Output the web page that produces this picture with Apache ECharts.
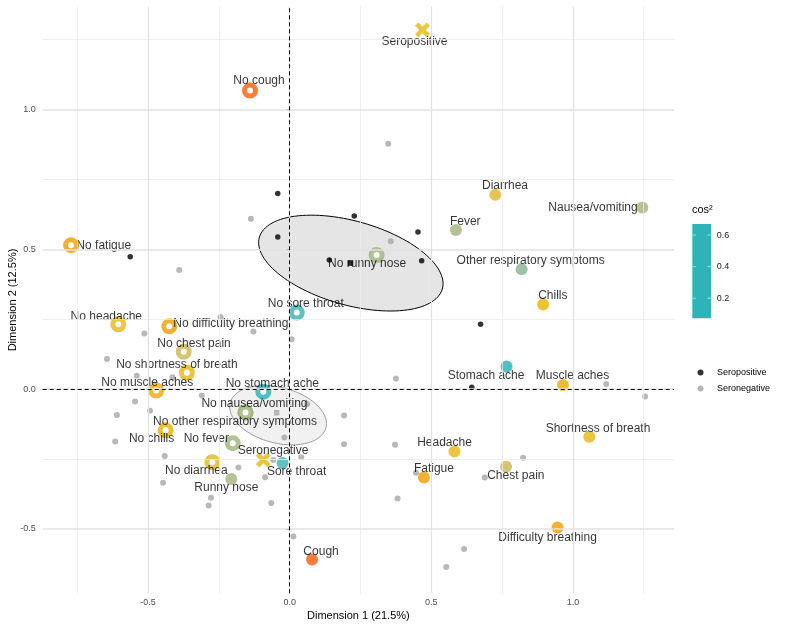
<!DOCTYPE html>
<html>
<head>
<meta charset="utf-8">
<script src="https://cdn.jsdelivr.net/npm/echarts@6/dist/echarts.min.js"></script>
<style>html,body{margin:0;padding:0;background:#fff}#chart{width:787px;height:630px}</style>
</head>
<body>
<div id="chart"></div>
<script>
// ---------------- DATA ----------------
// Axis limits (data units) and tick values
const xLimits = [-0.872, 1.357];
const yLimits = [-0.730, 1.368];
const xMajor = [-0.5, 0, 0.5, 1.0];
const yMajor = [-0.5, 0, 0.5, 1.0];
const xMinor = [-0.75, -0.25, 0.25, 0.75, 1.25];
const yMinor = [-0.25, 0.25, 0.75, 1.25];

// Variable categories (symptom present / absent)
const varNames = ['Cough', 'Fatigue', 'Difficulty breathing', 'Headache', 'Chest pain',
  'Shortness of breath', 'Muscle aches', 'Chills', 'Diarrhea', 'Fever',
  'Other respiratory symptoms', 'Nausea/vomiting', 'Runny nose', 'Stomach ache', 'Sore throat'];
const yesX = [0.079, 0.474, 0.946, 0.582, 0.764, 1.058, 0.965, 0.895, 0.726, 0.587, 0.819, 1.245, -0.206, 0.766, -0.025];
const yesY = [-0.609, -0.316, -0.495, -0.223, -0.277, -0.170, 0.015, 0.303, 0.695, 0.569, 0.429, 0.650, -0.321, 0.081, -0.264];
const noX  = [-0.140, -0.772, -0.425, -0.605, -0.374, -0.363, -0.471, -0.438, -0.273, -0.201, -0.156, -0.156, 0.307, -0.093, 0.025];
const noY  = [1.068, 0.515, 0.225, 0.232, 0.134, 0.059, -0.005, -0.147, -0.261, -0.193, -0.083, -0.083, 0.480, -0.009, 0.274];
const cos2 = [0.64, 0.46, 0.46, 0.365, 0.295, 0.365, 0.41, 0.385, 0.35, 0.205, 0.163, 0.213, 0.21, 0.08, 0.09];

// Supplementary qualitative categories
const suppNames = ['Seropositive', 'Seronegative'];
const suppX = [0.469, -0.093];
const suppY = [1.285, -0.253];
const suppCos2 = [0.36, 0.36];

// Individuals
const posX = [-0.042, -0.042, 0.228, -0.563, 0.140, 0.453, 0.466, 0.674, 0.643];
const posY = [0.700, 0.544, 0.619, 0.474, 0.462, 0.562, 0.459, 0.232, 0.007];
const negX = [0.348, -0.137, 0.357, -0.390, -0.244, -0.513, -0.128, 0.007, -0.645, -0.540,
  -0.414, -0.310, -0.546, -0.493, -0.610, 0.062, 0.192, -0.616, -0.019, 0.192,
  0.372, -0.441, 0.041, -0.058, -0.181, -0.087, -0.447, -0.278, -0.286, -0.065,
  0.381, 0.013, 0.375, 1.118, 1.255, 0.824, 0.689, 0.446, 0.616, 0.553];
const negY = [0.878, 0.610, 0.529, 0.426, 0.258, 0.199, 0.206, 0.179, 0.108, 0.048,
  0.043, -0.023, -0.044, -0.077, -0.092, -0.053, -0.094, -0.187, -0.173, -0.197,
  -0.199, -0.239, -0.243, -0.253, -0.280, -0.315, -0.335, -0.388, -0.416, -0.407,
  -0.391, -0.527, 0.038, 0.019, -0.026, -0.245, -0.316, -0.299, -0.572, -0.636];

// Group means and concentration ellipses (center, semi-axes, angle in degrees)
const groupNames = ['Seropositive', 'Seronegative'];
const meanX = [0.215, -0.046];
const meanY = [0.451, -0.084];
const ellA = [0.336, 0.175];
const ellB = [0.150, 0.0994];
const ellAngle = [-16, -15];
const ellCx = [0.216, -0.041];
const ellCy = [0.451, -0.093];

// cos2 colour bar
const cos2Limits = [0.073, 0.67];
const cos2Ticks = [0.2, 0.4, 0.6];

// ---------------- LAYOUT (label offsets in px) ----------------
const yesLabelOffset = [[9, -8], [10, -8.4], [-10, 9.6], [-10, -9], [9.8, 9.3],
  [8.7, -8.4], [9.5, -9], [9.7, -8.7], [9.7, -9], [9.3, -8.3],
  [9, -9], [-49.3, 0], [-5, 8.7], [-20.5, 9.3], [14, 9]];
const noLabelOffset = [[9, -10], [32.7, 0.5], [61.5, -2.3], [-12, -8], [10.3, -8.4],
  [-10, -8.4], [-9, -7.7], [-14, 8.7], [-16, 8.7], [-26.4, -4.3],
  [-10.4, 9.7], [9, -8.3], [-9.5, 8.5], [9, -8.4], [9, -8.4]];
const suppLabelOffset = [[-8, 12], [9.7, -9]];

// ---------------- colour scale (Lab interpolation) ----------------
const gradCols = ['#00AFBB', '#E7B800', '#FC4E07'];
function hex2rgb(h){h=h.replace('#','');return [0,2,4].map(i=>parseInt(h.substr(i,2),16));}
function lin(c){c/=255;return c<=0.04045?c/12.92:Math.pow((c+0.055)/1.055,2.4);}
function delin(c){c=c<=0.0031308?12.92*c:1.055*Math.pow(c,1/2.4)-0.055;return Math.max(0,Math.min(255,Math.round(c*255)));}
function rgb2lab(rgb){
  const R=lin(rgb[0]),G=lin(rgb[1]),B=lin(rgb[2]);
  const X=(0.4124*R+0.3576*G+0.1805*B)/0.95047,Y=0.2126*R+0.7152*G+0.0722*B,Z=(0.0193*R+0.1192*G+0.9505*B)/1.08883;
  const f=t=>t>0.008856?Math.cbrt(t):7.787*t+16/116;
  const fx=f(X),fy=f(Y),fz=f(Z);
  return [116*fy-16,500*(fx-fy),200*(fy-fz)];
}
function lab2hex(lab){
  const fy=(lab[0]+16)/116,fx=fy+lab[1]/500,fz=fy-lab[2]/200;
  const finv=t=>t>0.206893?t*t*t:(t-16/116)/7.787;
  const X=finv(fx)*0.95047,Y=finv(fy),Z=finv(fz)*1.08883;
  const R=3.2406*X-1.5372*Y-0.4986*Z,G=-0.9689*X+1.8758*Y+0.0415*Z,B=0.0557*X-0.2040*Y+1.0570*Z;
  return '#'+[R,G,B].map(v=>delin(v).toString(16).padStart(2,'0')).join('');
}
const gradLab = gradCols.map(c=>rgb2lab(hex2rgb(c)));
function colorFor(v){
  let t=(v-cos2Limits[0])/(cos2Limits[1]-cos2Limits[0]);
  t=Math.max(0,Math.min(1,t));
  const seg=t<0.5?0:1, u=(t-seg*0.5)/0.5;
  const a=gradLab[seg],b=gradLab[seg+1];
  return lab2hex([0,1,2].map(i=>a[i]+(b[i]-a[i])*u));
}

// ---------------- chart ----------------
const FONT = '"Liberation Sans", Arial, Helvetica, sans-serif';
const chart = echarts.init(document.getElementById('chart'), null, {renderer: 'canvas'});

const gridLeft = 42.7, gridRight = 113, gridTop = 6.7, gridBottom = 36.7;

const gridLines = [].concat(
  xMinor.map(v=>({xAxis:v, lineStyle:{color:'#ebebeb', width:0.8, type:'solid'}})),
  yMinor.map(v=>({yAxis:v, lineStyle:{color:'#ebebeb', width:0.8, type:'solid'}})),
  xMajor.map(v=>({xAxis:v, lineStyle:{color:'#e2e2e2', width:1.3, type:'solid'}})),
  yMajor.map(v=>({yAxis:v, lineStyle:{color:'#e2e2e2', width:1.6, type:'solid'}}))
);

function labelCfg(off){
  return {show:true, position:'inside', offset:off, color:'#000', fontSize:12, fontFamily:FONT,
          textBorderWidth:0, textShadowBlur:0,
          align:'center', verticalAlign:'middle', formatter: p=>p.name};
}

const ringData = varNames.map((n,i)=>({
  name: 'No ' + n.charAt(0).toLowerCase() + n.slice(1),
  value: [noX[i], noY[i]],
  itemStyle: {color:'#ffffff', borderColor: colorFor(cos2[i]), borderWidth: 5},
  label: labelCfg(noLabelOffset[i])
}));
const yesData = varNames.map((n,i)=>({
  name: n,
  value: [yesX[i], yesY[i]],
  itemStyle: {color: colorFor(cos2[i])},
  label: labelCfg(yesLabelOffset[i])
}));
const suppData = suppNames.map((n,i)=>({
  name: n,
  value: [suppX[i], suppY[i]],
  itemStyle: {color: colorFor(suppCos2[i])},
  label: labelCfg(suppLabelOffset[i])
}));

const groupFill = ['rgba(0,0,0,0.10)', 'rgba(140,140,140,0.12)'];
const groupStroke = ['#000000', '#9a9a9a'];
const groupPoint = ['#000000', '#a6a6a6'];

const ellipseData = groupNames.map((g,i)=>[ellCx[i], ellCy[i], ellA[i], ellB[i], ellAngle[i], i]);

const xShape = 'path://M4.5,0 L10,5.5 L15.5,0 L20,4.5 L14.5,10 L20,15.5 L15.5,20 L10,14.5 L4.5,20 L0,15.5 L5.5,10 L0,4.5 Z';

// colour bar (legend) geometry
const cb = {x:692.3, y:224, w:18.7, h:94.3};
const cbY = v => cb.y + cb.h - (v - cos2Limits[0])/(cos2Limits[1]-cos2Limits[0])*cb.h;
const cbElems = [
  {type:'text', left:692, top:204, style:{text:'cos²', fontSize:11, fill:'#000', fontFamily:FONT}},
  {type:'rect', shape:{x:cb.x, y:cb.y, width:cb.w, height:cb.h}, style:{fill:'#2db4b9'}}
];
cos2Ticks.forEach(v=>{
  const y=cbY(v);
  cbElems.push({type:'line', shape:{x1:cb.x, y1:y, x2:cb.x+3.7, y2:y}, style:{stroke:'rgba(255,255,255,0.55)', lineWidth:1}});
  cbElems.push({type:'line', shape:{x1:cb.x+cb.w-3.7, y1:y, x2:cb.x+cb.w, y2:y}, style:{stroke:'rgba(255,255,255,0.55)', lineWidth:1}});
  cbElems.push({type:'text', x:716.7, y:y, style:{text:v.toFixed(1), fontSize:9, fill:'#1a1a1a', fontFamily:FONT, textVerticalAlign:'middle', verticalAlign:'middle'}});
});

const option = {
  animation: false,
  backgroundColor: '#ffffff',
  grid: {left: gridLeft, right: gridRight, top: gridTop, bottom: gridBottom, containLabel: false, outerBoundsMode: 'none'},
  xAxis: {
    type: 'value', min: xLimits[0], max: xLimits[1],
    name: 'Dimension 1 (21.5%)', nameLocation: 'middle', nameGap: 17, nameMoveOverlap: false,
    nameTextStyle: {fontSize: 11, color: '#000', fontFamily: FONT},
    axisLine: {show: false},
    splitLine: {show: false},
    axisTick: {show: true, customValues: xMajor, length: 3, lineStyle: {color: '#4d4d4d', width: 1}},
    axisLabel: {customValues: xMajor, formatter: v => v.toFixed(1), fontSize: 9, color: '#4d4d4d', margin: 5, fontFamily: FONT}
  },
  yAxis: {
    type: 'value', min: yLimits[0], max: yLimits[1],
    name: 'Dimension 2 (12.5%)', nameLocation: 'middle', nameGap: 24, nameRotate: 90, nameMoveOverlap: false,
    nameTextStyle: {fontSize: 11, color: '#000', fontFamily: FONT},
    axisLine: {show: false},
    splitLine: {show: false},
    axisTick: {show: true, customValues: yMajor, length: 3, lineStyle: {color: '#4d4d4d', width: 1}},
    axisLabel: {customValues: yMajor, formatter: v => v.toFixed(1), fontSize: 9, color: '#4d4d4d', margin: 7, fontFamily: FONT}
  },
  legend: {
    data: ['Seropositive', 'Seronegative'],
    orient: 'vertical', left: 692.5, top: 363,
    itemWidth: 23, itemHeight: 6, itemGap: 7, icon: 'circle',
    selectedMode: false,
    textStyle: {fontSize: 9, color: '#000', fontFamily: FONT}
  },
  graphic: cbElems,
  series: [
    {
      type: 'scatter', name: 'grid', data: [], silent: true, z: 0,
      markLine: {silent: true, symbol: ['none', 'none'], label: {show: false}, data: gridLines, animation: false}
    },
    {
      type: 'custom', name: 'ellipses', z: 1, silent: true,
      data: ellipseData,
      renderItem: function (params, api) {
        const cx = api.value(0), cy = api.value(1), a = api.value(2), b = api.value(3);
        const ang = api.value(4) * Math.PI / 180, g = api.value(5);
        const pts = [];
        for (let k = 0; k <= 120; k++) {
          const t = 2 * Math.PI * k / 120;
          const dx = a * Math.cos(t), dy = b * Math.sin(t);
          pts.push(api.coord([cx + dx * Math.cos(ang) - dy * Math.sin(ang), cy + dx * Math.sin(ang) + dy * Math.cos(ang)]));
        }
        return {type: 'polygon', shape: {points: pts}, style: {fill: groupFill[g], stroke: groupStroke[g], lineWidth: 1}};
      }
    },
    {
      type: 'scatter', name: 'zero', data: [], silent: true, z: 2,
      markLine: {silent: true, symbol: ['none', 'none'], label: {show: false},
        lineStyle: {color: '#000', width: 1, type: [4, 3]},
        data: [{xAxis: 0}, {yAxis: 0}], animation: false}
    },
    {
      type: 'scatter', name: 'Seronegative', z: 3, symbol: 'circle', symbolSize: 6,
      itemStyle: {color: groupPoint[1]},
      data: negX.map((x, i) => [x, negY[i]])
    },
    {
      type: 'scatter', name: 'Seropositive', z: 3, symbol: 'circle', symbolSize: 5.5,
      itemStyle: {color: groupPoint[0]},
      data: posX.map((x, i) => [x, posY[i]])
    },
    {
      type: 'scatter', name: 'means', z: 3, symbol: 'rect', symbolSize: 5.5,
      data: groupNames.map((g, i) => ({value: [meanX[i], meanY[i]], itemStyle: {color: groupPoint[i]}}))
    },
    {
      type: 'scatter', name: 'absent', z: 4, symbol: 'circle', symbolSize: 11,
      data: ringData
    },
    {
      type: 'scatter', name: 'present', z: 4, symbol: 'circle', symbolSize: 12,
      data: yesData
    },
    {
      type: 'scatter', name: 'supplementary', z: 4, symbol: xShape, symbolSize: 15,
      data: suppData
    }
  ]
};
chart.setOption(option);
</script>
</body>
</html>
